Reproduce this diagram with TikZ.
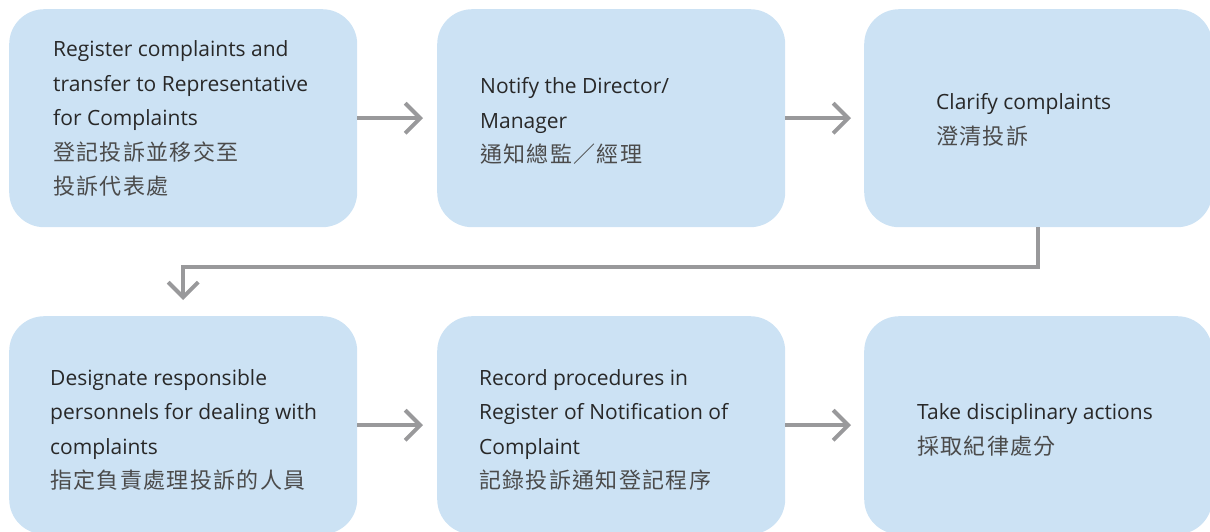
\documentclass[tikz,border=0pt]{standalone}
\usepackage{fontspec}
\setmainfont{Open Sans}
\newfontfamily\cjkf[LetterSpace=6]{Noto Sans CJK TC}
\usetikzlibrary{arrows.meta}
\definecolor{boxblue}{RGB}{204,226,244}
\definecolor{arrowgray}{RGB}{153,153,155}
\definecolor{entext}{RGB}{40,40,40}
\definecolor{zhtext}{RGB}{75,75,75}
\newcommand{\zh}[1]{{\cjkf\fontsize{22}{34.5}\selectfont\color{zhtext}#1}}
\tikzset{
  flowbox/.style={rectangle, rounded corners=35pt, fill=boxblue, draw=none,
    minimum width=348pt, minimum height=218pt, inner sep=0pt, anchor=north west},
  boxtext/.style={anchor=west, align=left, inner sep=0pt, text=entext,
    font=\fontsize{21}{34.5}\selectfont},
  flowarrow/.style={draw=arrowgray, line width=4pt,
    -{Straight Barb[length=15pt, width=30pt, line width=4pt]}},
}
\begin{document}
\begin{tikzpicture}[x=1pt, y=-1pt]
\useasboundingbox (0,0) rectangle (1210,531);
% boxes
\node[flowbox] (b1) at (9,9) {};
\node[flowbox] (b2) at (437,9) {};
\node[flowbox] (b3) at (864,9) {};
\node[flowbox] (b4) at (9,316) {};
\node[flowbox] (b5) at (437,316) {};
\node[flowbox] (b6) at (864,316) {};
% texts
\node[boxtext] (t1) at (53,118.5) {Register complaints and\\transfer to Representative\\for Complaints\\\zh{登記投訴並移交至}\\\zh{投訴代表處}};
\node[boxtext] (t2) at (480,121) {Notify the Director/\\Manager\\\zh{通知總監／經理}};
\node[boxtext] (t3) at (936,120) {Clarify complaints\\\zh{澄清投訴}};
\node[boxtext] (t4) at (50,430) {Designate responsible\\personnels for dealing with\\complaints\\\zh{指定負責處理投訴的人員}};
\node[boxtext] (t5) at (479,430) {Record procedures in\\Register of Notification of\\Complaint\\\zh{記錄投訴通知登記程序}};
\node[boxtext] (t6) at (917,430) {Take disciplinary actions\\\zh{採取紀律處分}};
% connectors
\draw[flowarrow, shorten >=14pt] (b1.east) -- (b2.west);
\draw[flowarrow, shorten >=13pt] (b2.east) -- (b3.west);
\draw[flowarrow, shorten >=14pt] (b4.east) -- (b5.west);
\draw[flowarrow, shorten >=13pt] (b5.east) -- (b6.west);
\draw[flowarrow, shorten >=16pt] (b3.south) -- ++(0,40) -| (b4.north);
\end{tikzpicture}
\end{document}
